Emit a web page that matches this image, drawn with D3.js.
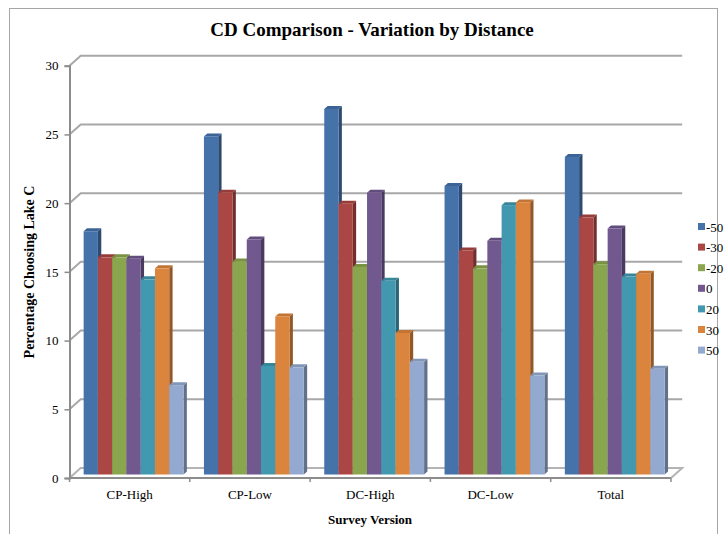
<!DOCTYPE html>
<html>
<head>
<meta charset="utf-8">
<script src="https://cdn.jsdelivr.net/npm/d3@7/dist/d3.min.js"></script>
<style>
  html, body { margin: 0; padding: 0; background: #fff; }
  svg { display: block; }
  text { font-family: "Liberation Serif", "Times New Roman", serif; fill: #000; }
</style>
</head>
<body>
<svg id="chart" width="725" height="534"></svg>
<script>
// Survey versions along the x axis
const categories = ["CP-High", "CP-Low", "DC-High", "DC-Low", "Total"];
// Distance series shown in the legend
const seriesNames = ["-50", "-30", "-20", "0", "20", "30", "50"];
// Percentage choosing Lake C, one array per distance series (order follows categories)
const valsM50 = [17.7, 24.6, 26.6, 21.0, 23.1];
const valsM30 = [15.8, 20.5, 19.7, 16.3, 18.7];
const valsM20 = [15.8, 15.5, 15.1, 15.0, 15.3];
const vals0   = [15.7, 17.1, 20.5, 17.0, 17.9];
const vals20  = [14.2, 7.9, 14.1, 19.6, 14.4];
const vals30  = [15.0, 11.5, 10.3, 19.8, 14.6];
const vals50  = [6.5, 7.8, 8.2, 7.2, 7.7];
// Value axis ticks
const yTicks = [0, 5, 10, 15, 20, 25, 30];

const seriesValues = [valsM50, valsM30, valsM20, vals0, vals20, vals30, vals50];

// Face colours: front, side, top
const frontColors = ["#4672aa", "#aa4744", "#89a54e", "#71588f", "#4198af", "#db843d", "#93a9cf"];
const sideColors  = ["#2d4a70", "#722f2d", "#5b6e33", "#4b3a60", "#2b6574", "#945828", "#62708b"];
const topColors   = ["#3c6396", "#963d3a", "#799143", "#624c7e", "#37869a", "#c27435", "#8296b8"];

const FONT = "'Liberation Serif', 'Times New Roman', serif";
const svg = d3.select("#chart");

// Chart frame
svg.append("rect")
  .attr("x", 9.5).attr("y", 8.5).attr("width", 708).attr("height", 540)
  .attr("fill", "#fff").attr("stroke", "#a6a6a6").attr("stroke-width", 1);

// Oblique projection depth offsets
const DX = 11.2, DY = 10;
const Z0 = 0.35, Z1 = 0.65;

const x = d3.scaleBand().domain(categories).range([69.5, 671]).padding(0);
const bw = x.bandwidth();
const xs = d3.scaleBand().domain(seriesNames).range([bw * 0.085, bw * 0.915]).padding(0);
const y = d3.scaleLinear().domain([0, 30]).range([478, 65.7]);

const [x0, x1] = x.range();

// Walls: left side wall + back wall gridlines
const grid = svg.append("g");
yTicks.forEach(t => {
  if (t === 0) return;
  const yy = y(t);
  grid.append("path")
    .attr("d", `M${x0},${yy} L${x0 + DX},${yy - DY} L${x1 + DX},${yy - DY}`)
    .attr("fill", "none").attr("stroke", "#a8a8a8").attr("stroke-width", 2);
});

// Floor outline
const y0 = y(0);
svg.append("path")
  .attr("d", `M${x0},${y0} L${x0 + DX},${y0 - DY} L${x1 + DX},${y0 - DY} L${x1},${y0}`)
  .attr("fill", "none").attr("stroke", "#b4b4b4").attr("stroke-width", 2);

// Bars
const bars = svg.append("g");
categories.forEach((cat, ci) => {
  seriesNames.forEach((s, si) => {
    const v = seriesValues[si][ci];
    const bx = x(cat) + xs(s) + Z0 * DX;
    const bwid = xs.bandwidth();
    const yb = y(0) - Z0 * DY;
    const yt = y(v) - Z0 * DY;
    const ddx = (Z1 - Z0) * DX, ddy = (Z1 - Z0) * DY;
    const g = bars.append("g");
    // side face
    g.append("path")
      .attr("d", `M${bx + bwid},${yt} L${bx + bwid + ddx},${yt - ddy} L${bx + bwid + ddx},${yb - ddy} L${bx + bwid},${yb} Z`)
      .attr("fill", sideColors[si]);
    // top face
    g.append("path")
      .attr("d", `M${bx},${yt} L${bx + ddx},${yt - ddy} L${bx + bwid + ddx},${yt - ddy} L${bx + bwid},${yt} Z`)
      .attr("fill", topColors[si]);
    // front face
    g.append("rect")
      .attr("x", bx).attr("y", yt).attr("width", bwid).attr("height", yb - yt)
      .attr("fill", frontColors[si]);
  });
});

// Front floor edge
svg.append("line")
  .attr("x1", x0).attr("x2", x1).attr("y1", y0).attr("y2", y0)
  .attr("stroke", "#8c8c8c").attr("stroke-width", 2);

// Value axis
const yAxis = svg.append("g")
  .attr("transform", `translate(${x0},0)`)
  .call(d3.axisLeft(y).tickValues(yTicks).tickSize(5).tickPadding(6));
yAxis.attr("font-family", FONT).attr("font-size", 13);
yAxis.select(".domain").attr("stroke", "#8c8c8c").attr("stroke-width", 2);
yAxis.selectAll(".tick line").attr("stroke", "#8c8c8c").attr("stroke-width", 1.5);
yAxis.selectAll(".tick text").attr("fill", "#000");

// Category axis
const xAxis = svg.append("g")
  .attr("transform", `translate(0,${y0})`)
  .call(d3.axisBottom(x).tickSize(0).tickPadding(12));
xAxis.attr("font-family", FONT).attr("font-size", 13);
xAxis.select(".domain").remove();
xAxis.selectAll(".tick text").attr("fill", "#000");
// Category boundary ticks
const bounds = categories.map(c => x(c)).concat([x1]);
svg.append("g").selectAll("line").data(bounds).join("line")
  .attr("x1", d => d).attr("x2", d => d)
  .attr("y1", y0).attr("y2", y0 + 4)
  .attr("stroke", "#8c8c8c").attr("stroke-width", 1.5);

// Title
svg.append("text")
  .attr("x", 372).attr("y", 36)
  .attr("text-anchor", "middle")
  .style("font-size", "19px").style("font-weight", "bold")
  .text("CD Comparison - Variation by Distance");

// Axis titles
svg.append("text")
  .attr("transform", "translate(34,272) rotate(-90)")
  .attr("text-anchor", "middle")
  .style("font-size", "14px").style("font-weight", "bold")
  .text("Percentage Choosing Lake C");

svg.append("text")
  .attr("x", 370).attr("y", 524)
  .attr("text-anchor", "middle")
  .style("font-size", "13px").style("font-weight", "bold")
  .text("Survey Version");

// Legend
const legend = svg.append("g").attr("transform", "translate(698,227)");
seriesNames.forEach((s, i) => {
  const row = legend.append("g").attr("transform", `translate(0,${i * 20.6})`);
  row.append("rect").attr("x", 0).attr("y", -4).attr("width", 7).attr("height", 7)
    .attr("fill", frontColors[i]);
  row.append("text").attr("x", 8).attr("y", 4.5)
    .style("font-size", "13px").text(s);
});
</script>
</body>
</html>
